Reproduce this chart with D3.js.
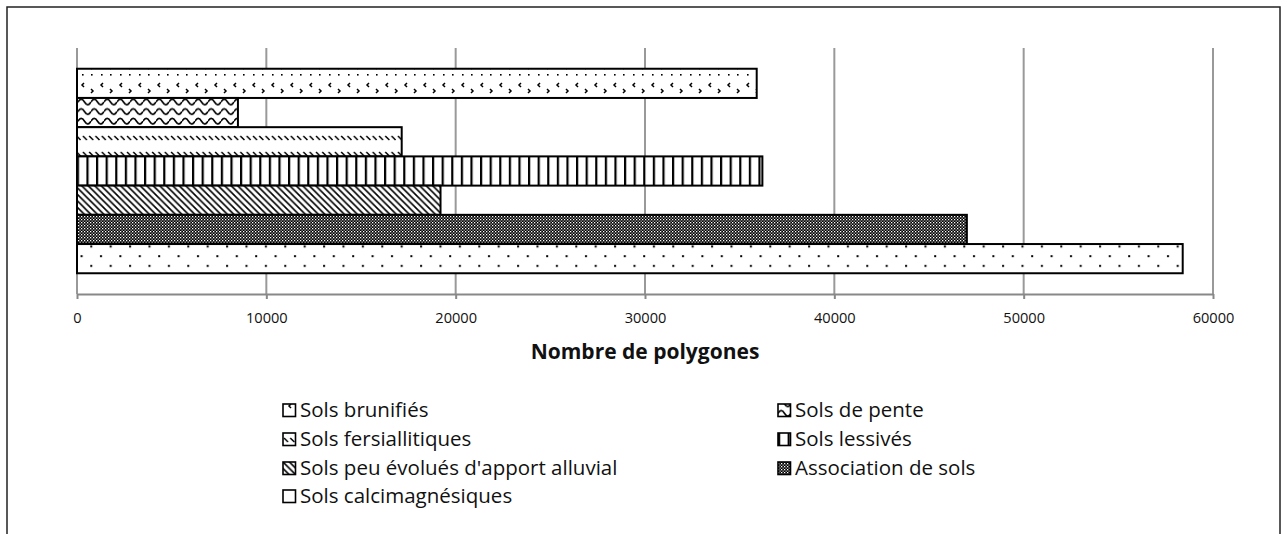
<!DOCTYPE html>
<html><head><meta charset="utf-8">
<script src="https://cdn.jsdelivr.net/npm/d3@7"></script>
<style>body{margin:0;background:#fff}svg{display:block}</style>
</head><body>
<svg id="c" width="1287" height="534"></svg>
<script>
// ---- data ----
const categories = ["Sols brunifiés","Sols de pente","Sols fersiallitiques","Sols lessivés","Sols peu évolués d'apport alluvial","Association de sols","Sols calcimagnésiques"];
const values = [35900, 8500, 17150, 36200, 19200, 47000, 58400];
const patternIds = ["p-chev","p-wave","p-sdiag","p-vert","p-ddiag","p-check","p-dots"];
const tickValues = [0,10000,20000,30000,40000,50000,60000];
const axisTitle = "Nombre de polygones";

const svg = d3.select("#c");
const defs = svg.append("defs");

function pat(id,w,h){return defs.append("pattern").attr("id",id).attr("patternUnits","userSpaceOnUse").attr("width",w).attr("height",h);}
let p;
// chevrons < >
p = pat("p-chev",19,24); p.append("rect").attr("width",19).attr("height",24).attr("fill","#fff");
[[6,2],[15,2]].forEach(([x,y])=>p.append("rect").attr("x",x).attr("y",y).attr("width",1.6).attr("height",1.6).attr("fill","#000"));
p.append("path").attr("d","M8,11 L6,13 L8,15").attr("stroke","#000").attr("stroke-width",1.5).attr("fill","none");
p.append("path").attr("d","M15,17 L17,19 L15,21").attr("stroke","#000").attr("stroke-width",1.5).attr("fill","none");
// waves
p = pat("p-wave",13,9.6); p.append("rect").attr("width",13).attr("height",9.6).attr("fill","#fff");
p.append("path").attr("d","M0,6 Q3.25,0.5 6.5,6 T13,6").attr("stroke","#000").attr("stroke-width",1.6).attr("fill","none");
// sparse diagonal dashes
p = pat("p-sdiag",6.3,16); p.append("rect").attr("width",6.3).attr("height",16).attr("fill","#fff");
p.append("path").attr("d","M1,8 L5,12").attr("stroke","#000").attr("stroke-width",1.5);
// vertical lines
p = pat("p-vert",9.6,10); p.append("rect").attr("width",9.6).attr("height",10).attr("fill","#fff");
p.append("rect").attr("x",0).attr("width",2.2).attr("height",10).attr("fill","#000");
// dense diagonal
p = pat("p-ddiag",6.5,6.5); p.append("rect").attr("width",6.5).attr("height",6.5).attr("fill","#fff");
p.append("path").attr("d","M-1,-1 L7.5,7.5 M-1,5.5 L1,7.5 M5.5,-1 L7.5,1").attr("stroke","#000").attr("stroke-width",1.6);
// checker
p = pat("p-check",3,3); p.append("rect").attr("width",3).attr("height",3).attr("fill","#000");
p.append("rect").attr("width",1.3).attr("height",1.3).attr("fill","#fff");
p.append("rect").attr("x",1.5).attr("y",1.5).attr("width",1.3).attr("height",1.3).attr("fill","#bbb");
// dots
p = pat("p-dots",19.4,19.4); p.append("rect").attr("width",19.4).attr("height",19.4).attr("fill","#fff");
[[3,3],[12.7,12.7]].forEach(([x,y])=>p.append("rect").attr("x",x).attr("y",y).attr("width",2).attr("height",2).attr("fill","#000"));

// outer frame
svg.append("rect").attr("x",7).attr("y",7).attr("width",1273).attr("height",540).attr("fill","none").attr("stroke","#222").attr("stroke-width",1.5);

const x = d3.scaleLinear().domain([0,60000]).range([77,1213]);
const y = d3.scaleBand().domain(categories).range([48,294]).paddingInner(0).paddingOuter(0.71);

// gridlines
svg.append("g").selectAll("line").data(tickValues).join("line")
  .attr("x1",d=>x(d)).attr("x2",d=>x(d)).attr("y1",48).attr("y2",294)
  .attr("stroke","#999").attr("stroke-width",2);

// axis
const ax = svg.append("g").attr("transform","translate(0,294)")
  .call(d3.axisBottom(x).tickValues(tickValues).tickFormat(d3.format("d")).tickSize(5).tickSizeOuter(0));
ax.select(".domain").attr("stroke","#888").attr("stroke-width",2);
ax.selectAll(".tick line").attr("stroke","#888").attr("stroke-width",2);
ax.selectAll(".tick text").attr("font-family","Open Sans").attr("font-size",14.6).attr("fill","#111").attr("y",0).attr("dy","29px");

// bars
svg.append("g").selectAll("rect").data(categories).join("rect")
  .attr("x",x(0)).attr("y",d=>y(d)).attr("height",y.bandwidth())
  .attr("width",(d,i)=>x(values[i])-x(0))
  .attr("fill",(d,i)=>`url(#${patternIds[i]})`)
  .attr("stroke","#000").attr("stroke-width",2);

// axis title
svg.append("text").attr("x",645).attr("y",359).attr("text-anchor","middle")
  .attr("font-family","Open Sans").attr("font-weight","bold").attr("font-size",21).attr("fill","#111").text(axisTitle);

// legend
const legendX = [283, 778], rowY = [417, 446, 475, 503];
const lg = svg.append("g").selectAll("g").data(categories).join("g")
  .attr("transform",(d,i)=>`translate(${legendX[i%2]},${rowY[Math.floor(i/2)]})`);
lg.append("rect").attr("x",0).attr("y",-13).attr("width",12.5).attr("height",12.5)
  .attr("fill",(d,i)=>`url(#${patternIds[i]})`).attr("stroke","#000").attr("stroke-width",1.6);
lg.append("text").attr("x",17).attr("y",0).attr("font-family","Open Sans").attr("font-size",20.5).attr("fill","#111").text(d=>d);
</script>
</body></html>
